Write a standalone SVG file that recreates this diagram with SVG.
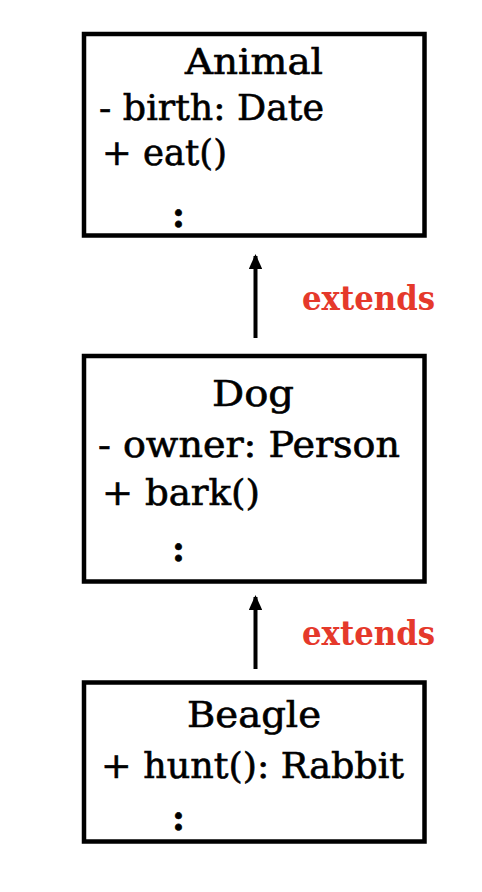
<svg xmlns="http://www.w3.org/2000/svg" width="482" height="892" viewBox="0 0 482 892">
<style>
.box{fill:#ffffff;stroke:#000000;stroke-width:4.5}
.t{font-family:"DejaVu Serif","Liberation Serif",serif;font-size:35px;fill:#000000;stroke:#000000;stroke-width:0.6}
.col{font-weight:bold}
.ext{font-family:"DejaVu Serif","Liberation Serif",serif;font-size:34px;font-weight:bold;fill:#e5392b}
.conn{stroke:#000000;stroke-width:4;fill:none}
</style>
<defs>
<marker id="arrow" markerWidth="3.8" markerHeight="3.4" refX="3.3" refY="1.7" orient="auto" markerUnits="strokeWidth" viewBox="0 0 3.8 3.4">
<path d="M0,0 L3.8,1.7 L0,3.4 z" fill="#000000"/>
</marker>
</defs>
<rect width="482" height="892" fill="#ffffff"/>
<g id="connectors">
<line class="conn" x1="255.5" y1="338" x2="255.5" y2="256" marker-end="url(#arrow)"/>
<line class="conn" x1="255.5" y1="669" x2="255.5" y2="597" marker-end="url(#arrow)"/>
<text class="ext" x="302" y="310" textLength="133" lengthAdjust="spacingAndGlyphs">extends</text>
<text class="ext" x="302" y="645" textLength="133" lengthAdjust="spacingAndGlyphs">extends</text>
</g>
<g id="animal">
<rect class="box" x="84" y="34" width="340.5" height="201.5"/>
<text class="t" x="185" y="74" textLength="138" lengthAdjust="spacingAndGlyphs">Animal</text>
<text class="t" x="99" y="120" textLength="225" lengthAdjust="spacingAndGlyphs">- birth: Date</text>
<text class="t" x="102" y="165" textLength="125" lengthAdjust="spacingAndGlyphs">+ eat()</text>
<text class="t col" x="172" y="227">:</text>
</g>
<g id="dog">
<rect class="box" x="84" y="356" width="340.5" height="225.5"/>
<text class="t" x="212" y="406" textLength="82" lengthAdjust="spacingAndGlyphs">Dog</text>
<text class="t" x="98" y="457" textLength="302" lengthAdjust="spacingAndGlyphs">- owner: Person</text>
<text class="t" x="102" y="505" textLength="158" lengthAdjust="spacingAndGlyphs">+ bark()</text>
<text class="t col" x="172" y="561">:</text>
</g>
<g id="beagle">
<rect class="box" x="84" y="682.5" width="340.5" height="159"/>
<text class="t" x="187" y="727" textLength="134" lengthAdjust="spacingAndGlyphs">Beagle</text>
<text class="t" x="101" y="778" textLength="303" lengthAdjust="spacingAndGlyphs">+ hunt(): Rabbit</text>
<text class="t col" x="172" y="830">:</text>
</g>
</svg>
